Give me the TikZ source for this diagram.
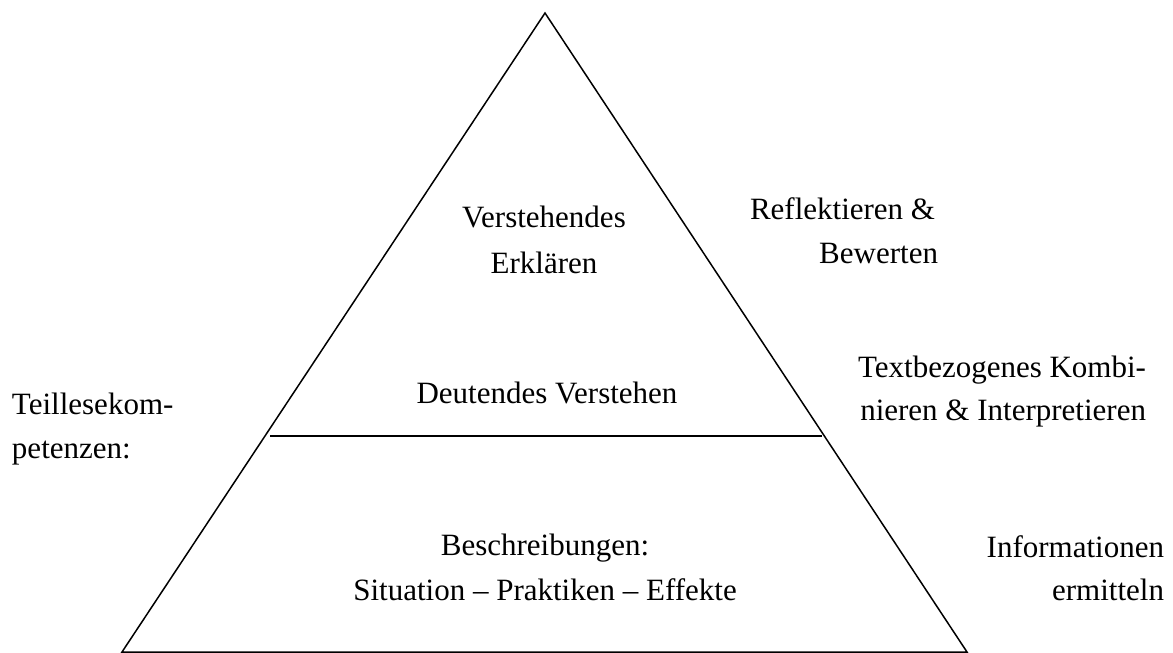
\documentclass[tikz,border=0pt]{standalone}
\usepackage{fontspec}
\setmainfont{Liberation Serif}
\begin{document}
\begin{tikzpicture}[x=1pt,y=-1pt,
  lbl/.style={inner sep=0pt,outer sep=0pt,font=\fontsize{31}{37}\selectfont},
  edge/.style={line width=1.5pt,line join=miter}]
\useasboundingbox (0,0) rectangle (1173,653);
\coordinate (apex) at (545,13);
\coordinate (bl) at (122,652);
\coordinate (br) at (967,652);
\coordinate (ml) at (270,436);
\coordinate (mr) at (822,436);
\draw[edge] (bl) -- (apex) -- (br) -- cycle;
\draw[edge] (ml) -- (mr);
% inside texts
\node[lbl,anchor=base] (v1) at (544,227) {Verstehendes};
\node[lbl,anchor=base] (v2) at (544,273) {Erklären};
\node[lbl,anchor=base] (dv) at (547,403) {Deutendes Verstehen};
\node[lbl,anchor=base] (b1) at (545,555) {Beschreibungen:};
\node[lbl,anchor=base] (b2) at (545,600) {Situation – Praktiken – Effekte};
% left
\node[lbl,anchor=base west] (t1) at (12,414) {Teillesekom-};
\node[lbl,anchor=base west] (t2) at (12,458) {petenzen:};
% right
\node[lbl,anchor=base west] (r1) at (750,219) {Reflektieren \&};
\node[lbl,anchor=base east] (r2) at (938,263) {Bewerten};
\node[lbl,anchor=base east] (k1) at (1146,377) {Textbezogenes Kombi-};
\node[lbl,anchor=base east] (k2) at (1146,420) {nieren \& Interpretieren};
\node[lbl,anchor=base east] (i1) at (1164,557) {Informationen};
\node[lbl,anchor=base east] (i2) at (1164,600) {ermitteln};
\end{tikzpicture}
\end{document}
